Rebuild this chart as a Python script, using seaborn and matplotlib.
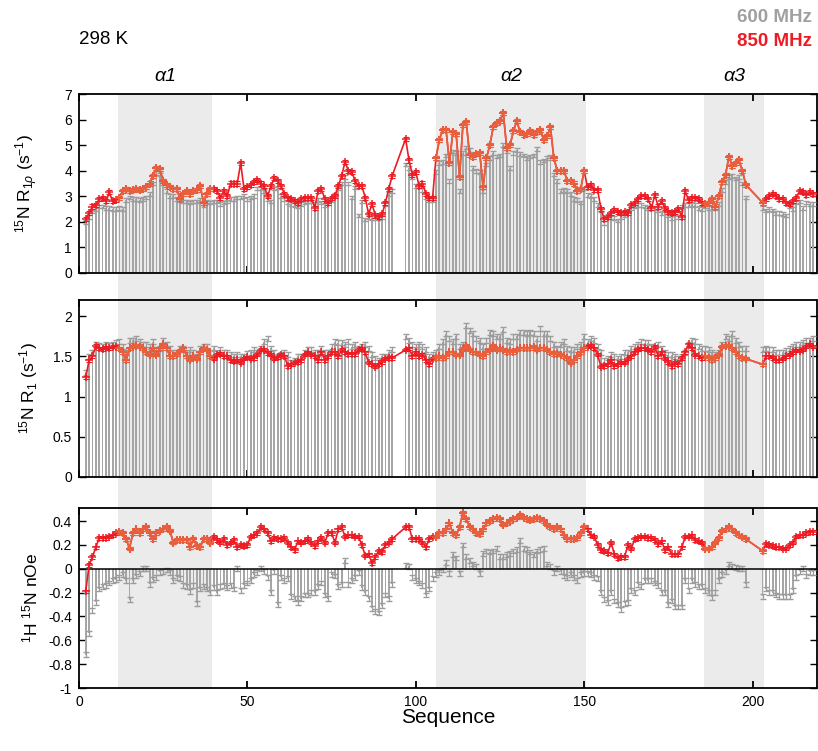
"""Relaxation data (R1rho, R1, hetNOE) at 600 and 850 MHz, 298 K"""
import numpy as np
import pandas as pd
import seaborn as sns
import matplotlib.pyplot as plt
from matplotlib.patches import Rectangle
from matplotlib.transforms import blended_transform_factory

# residues with data (gaps at 94-96 and 199-202)
residues = np.r_[2:94, 97:199, 203:219]

r1rho_600 = [
    2.0, 2.2, 2.4, 2.5, 2.6, 2.6, 2.55, 2.55, 2.5, 2.5,
    2.55, 2.5, 2.85, 2.95, 2.9, 2.9, 2.85, 2.9, 2.95, 3.1,
    3.5, 3.9, 3.85, 3.5, 3.2, 3.0, 3.0, 2.9, 2.85, 2.8,
    2.8, 2.75, 2.8, 2.8, 2.85, 2.65, 2.8, 2.75, 2.8, 2.8,
    2.7, 2.75, 2.8, 2.9, 2.9, 2.95, 2.95, 3.0, 2.9, 2.95,
    3.0, 3.3, 3.3, 3.2, 2.9, 2.8, 3.3, 3.35, 3.0, 2.9,
    2.75, 2.7, 2.65, 2.6, 2.7, 2.75, 2.8, 2.8, 2.7, 2.85,
    2.75, 2.65, 2.8, 2.85, 3.05, 3.3, 3.5, 3.75, 3.5, 2.95,
    3.35, 2.25, 2.8, 2.1, 2.2, 2.15, 2.15, 2.15, 2.2, 2.7,
    3.1, 3.2,
    4.25, 4.1, 3.75, 3.4, 3.4, 3.25, 2.95, 2.85, 2.85, 3.95,
    4.3, 4.35, 4.6, 3.6, 4.75, 4.7, 3.2, 4.7, 4.9, 4.8,
    4.1, 4.0, 3.95, 3.2, 4.25, 4.5, 4.7, 4.55, 4.6, 5.0,
    4.75, 4.1, 4.7, 4.8, 4.65, 4.6, 4.5, 4.55, 4.6, 4.85,
    4.35, 4.4, 4.5, 4.55, 3.85, 3.6, 3.2, 3.25, 3.2, 3.1,
    2.9, 2.85, 2.75, 3.3, 3.05, 3.0, 2.9, 2.65, 2.45, 1.95,
    2.25, 2.2, 2.15, 2.05, 2.2, 2.25, 2.45, 2.55, 2.6, 2.65,
    2.65, 2.6, 2.55, 2.55, 2.55, 2.45, 2.35, 2.45, 2.25, 2.15,
    2.3, 2.2, 2.6, 2.65, 2.65, 2.7, 2.65, 2.55, 2.5, 2.6,
    2.55, 2.55, 2.55, 2.7, 3.25, 3.55, 3.75, 3.8, 3.7, 3.75,
    3.5, 2.95,
    2.55, 2.45, 2.5, 2.45, 2.35, 2.35, 2.3, 2.25, 2.6, 2.5,
    2.75, 2.8, 2.55, 2.75, 2.7, 2.7,
]
r1rho_850 = [
    2.1, 2.35, 2.6, 2.65, 2.9, 2.95, 2.8, 3.15, 2.8, 2.85,
    2.95, 3.2, 3.3, 3.2, 3.25, 3.3, 3.25, 3.3, 3.35, 3.5,
    3.8, 4.1, 4.05, 3.6, 3.45, 3.35, 3.3, 3.3, 2.9, 3.1,
    3.2, 3.1, 3.2, 3.25, 3.4, 2.75, 3.1, 3.3, 3.3, 3.2,
    2.95, 3.2, 3.0, 3.5, 3.5, 3.5, 4.3, 3.3, 3.35, 3.45,
    3.55, 3.65, 3.5, 3.4, 3.0, 3.4, 3.7, 3.6, 3.4, 3.1,
    2.95, 2.9, 2.8, 2.75, 2.9, 2.95, 2.95, 2.95, 2.55, 3.2,
    3.27, 2.9, 2.72, 2.95, 3.0, 3.4, 3.8, 4.35, 4.0, 3.95,
    3.6, 3.4, 3.4, 2.95, 2.3, 2.7, 2.25, 2.2, 2.3, 2.75,
    3.3, 3.8,
    5.25, 4.4, 3.85, 3.95, 3.4, 3.5, 3.1, 2.95, 2.95, 4.5,
    5.2, 5.6, 5.6, 4.3, 5.5, 5.45, 3.75, 5.8, 5.9, 4.6,
    4.55, 4.65, 4.7, 3.35, 4.5, 5.0, 5.7, 5.85, 5.95, 6.25,
    4.9, 5.0, 5.55, 5.95, 5.5, 5.4, 5.45, 5.55, 5.4, 5.5,
    5.6, 5.2, 5.35, 5.7, 4.5, 4.0, 4.0, 4.0, 3.6, 3.6,
    3.5, 3.2, 3.3, 4.0, 3.35, 3.45, 3.25, 3.25, 2.5, 2.1,
    2.2, 2.35, 2.45, 2.4, 2.35, 2.4, 2.35, 2.65, 2.75, 2.9,
    3.0, 3.0, 2.9, 2.55, 3.05, 2.6, 2.8, 2.55, 2.4, 2.35,
    2.4, 2.5, 2.2, 3.2, 2.85, 2.95, 2.95, 2.9, 2.75, 2.7,
    2.75, 2.9, 2.6, 3.0, 3.55, 3.85, 4.55, 4.2, 4.3, 4.4,
    4.0, 3.45,
    2.75, 2.9, 3.0, 3.1, 3.0, 2.9, 2.9, 2.75, 2.7, 2.8,
    2.95, 3.2, 3.15, 3.05, 3.15, 3.1,
]
r1_600 = [
    1.3, 1.5, 1.55, 1.65, 1.63, 1.62, 1.65, 1.63, 1.65, 1.67,
    1.68, 1.62, 1.55, 1.7, 1.7, 1.72, 1.68, 1.65, 1.65, 1.62,
    1.68, 1.58, 1.6, 1.7, 1.65, 1.6, 1.55, 1.55, 1.6, 1.6,
    1.55, 1.58, 1.55, 1.5, 1.6, 1.62, 1.62, 1.55, 1.6, 1.55,
    1.58, 1.55, 1.55, 1.52, 1.5, 1.52, 1.5, 1.5, 1.53, 1.55,
    1.58, 1.55, 1.6, 1.68, 1.72, 1.6, 1.55, 1.5, 1.52, 1.55,
    1.52, 1.42, 1.45, 1.5, 1.5, 1.55, 1.58, 1.58, 1.55, 1.55,
    1.6, 1.55, 1.55, 1.62, 1.68, 1.67, 1.67, 1.65, 1.68, 1.62,
    1.65, 1.6, 1.62, 1.65, 1.6, 1.52, 1.48, 1.45, 1.5, 1.5,
    1.55, 1.58,
    1.75, 1.7, 1.65, 1.62, 1.65, 1.62, 1.58, 1.5, 1.52, 1.55,
    1.62, 1.68, 1.78, 1.72, 1.68, 1.75, 1.62, 1.65, 1.88, 1.82,
    1.78, 1.72, 1.7, 1.62, 1.7, 1.8, 1.78, 1.75, 1.75, 1.83,
    1.7, 1.68, 1.75, 1.75, 1.8, 1.8, 1.78, 1.8, 1.78, 1.72,
    1.85, 1.78, 1.78, 1.72, 1.65, 1.6, 1.65, 1.68, 1.6, 1.58,
    1.58, 1.62, 1.65, 1.75, 1.68, 1.72, 1.7, 1.62, 1.55, 1.45,
    1.48, 1.52, 1.5, 1.48, 1.5, 1.55, 1.55, 1.6, 1.62, 1.65,
    1.68, 1.67, 1.67, 1.62, 1.6, 1.65, 1.6, 1.55, 1.52, 1.52,
    1.5, 1.48, 1.5, 1.55, 1.65, 1.7, 1.68, 1.62, 1.6, 1.6,
    1.58, 1.55, 1.52, 1.55, 1.65, 1.75, 1.72, 1.78, 1.7, 1.65,
    1.6, 1.6,
    1.58, 1.6, 1.58, 1.58, 1.55, 1.55, 1.55, 1.57, 1.6, 1.62,
    1.65, 1.65, 1.67, 1.7, 1.7, 1.72,
]
r1_850 = [
    1.24, 1.45, 1.5, 1.63, 1.6, 1.59, 1.61, 1.6, 1.62, 1.62,
    1.6, 1.55, 1.45, 1.6, 1.62, 1.63, 1.62, 1.6, 1.55, 1.52,
    1.6, 1.52, 1.6, 1.65, 1.6, 1.5, 1.5, 1.53, 1.57, 1.6,
    1.5, 1.46, 1.5, 1.47, 1.55, 1.6, 1.58, 1.5, 1.47, 1.52,
    1.53, 1.5, 1.5, 1.45, 1.44, 1.45, 1.42, 1.47, 1.49, 1.47,
    1.48, 1.52, 1.58, 1.58, 1.54, 1.52, 1.47, 1.49, 1.52, 1.5,
    1.38, 1.4, 1.42, 1.43, 1.45, 1.52, 1.55, 1.52, 1.5, 1.45,
    1.55, 1.45, 1.5, 1.55, 1.55, 1.5, 1.58, 1.55, 1.53, 1.53,
    1.53, 1.58, 1.6, 1.55, 1.42, 1.4, 1.37, 1.4, 1.43, 1.47,
    1.48, 1.48,
    1.58, 1.6, 1.5, 1.55, 1.5, 1.52, 1.45, 1.4, 1.47, 1.48,
    1.5, 1.48, 1.5, 1.55, 1.55, 1.52, 1.52, 1.58, 1.63, 1.58,
    1.55, 1.55, 1.52, 1.5, 1.55, 1.58, 1.63, 1.58, 1.6, 1.58,
    1.55, 1.57, 1.55, 1.58, 1.6, 1.6, 1.6, 1.6, 1.62, 1.58,
    1.6, 1.6, 1.58, 1.55, 1.53, 1.53, 1.52, 1.5, 1.48, 1.42,
    1.45, 1.5, 1.55, 1.6, 1.62, 1.63, 1.6, 1.52, 1.37, 1.38,
    1.4, 1.45, 1.38, 1.4, 1.42, 1.42, 1.47, 1.5, 1.55, 1.58,
    1.6, 1.6, 1.58, 1.55, 1.62, 1.5, 1.55, 1.47, 1.43, 1.38,
    1.42, 1.4, 1.48, 1.55, 1.65, 1.6, 1.52, 1.5, 1.48, 1.5,
    1.48, 1.45, 1.48, 1.52, 1.62, 1.63, 1.63, 1.6, 1.55, 1.5,
    1.48, 1.47,
    1.4, 1.5, 1.5, 1.48, 1.45, 1.45, 1.47, 1.5, 1.52, 1.55,
    1.57, 1.57, 1.58, 1.62, 1.65, 1.62,
]
noe_600 = [
    -0.72, -0.54, -0.35, -0.28, -0.17, -0.15, -0.14, -0.12, -0.1, -0.09,
    -0.07, -0.05, -0.1, -0.26, -0.1, -0.06, -0.04, 0.0, 0.0, -0.13,
    -0.09, -0.07, -0.03, -0.02, -0.01, -0.03, -0.1, -0.07, -0.08, -0.14,
    -0.15, -0.19, -0.14, -0.29, -0.17, -0.15, -0.17, -0.2, -0.16, -0.2,
    -0.15, -0.14, -0.16, -0.14, -0.17, 0.0, -0.18, -0.14, -0.12, -0.1,
    -0.05, -0.03, 0.0, -0.02, -0.07, -0.2, -0.02, -0.3, -0.07, -0.1,
    -0.08, -0.23, -0.25, -0.28, -0.25, -0.22, -0.22, -0.2, -0.2, -0.15,
    -0.12, -0.22, -0.25, -0.05, -0.06, -0.15, -0.13, 0.07, -0.13, -0.1,
    -0.07, -0.03, -0.16, -0.2, -0.25, -0.33, -0.36, -0.37, -0.31, -0.22,
    -0.25, -0.13,
    0.03, 0.02, -0.07, -0.1, -0.12, -0.14, -0.22, -0.17, -0.08, -0.05,
    -0.03, -0.01, 0.05, -0.04, 0.12, 0.09, -0.04, 0.2, 0.1, 0.07,
    0.04, 0.02, -0.04, 0.13, 0.15, 0.14, 0.15, 0.17, 0.1, 0.1,
    0.12, 0.13, 0.15, 0.16, 0.24, 0.17, 0.16, 0.14, 0.12, 0.15,
    0.16, 0.17, 0.04, 0.02, -0.03, 0.0, -0.02, -0.06, -0.07, -0.05,
    -0.07, -0.1, -0.05, -0.04, -0.04, -0.05, -0.07, -0.08, -0.2, -0.26,
    -0.28, -0.2, -0.27, -0.3, -0.34, -0.29, -0.28, -0.18, -0.2, -0.13,
    -0.15, -0.1, -0.1, -0.1, -0.12, -0.14, -0.2, -0.2, -0.3, -0.27,
    -0.32, -0.32, -0.32, -0.1, -0.18, -0.1, -0.13, -0.15, -0.15, -0.18,
    -0.2, -0.24, -0.2, -0.1, -0.05, -0.02, 0.04, 0.02, 0.01, 0.0,
    0.0, -0.13,
    -0.23, -0.17, -0.2, -0.2, -0.22, -0.23, -0.23, -0.23, -0.23, -0.18,
    -0.07, -0.02, 0.0, -0.06, -0.03, -0.03,
]
noe_850 = [
    -0.19, 0.03, 0.1, 0.18, 0.26, 0.26, 0.26, 0.27, 0.28, 0.3,
    0.31, 0.3, 0.25, 0.17, 0.3, 0.33, 0.3, 0.33, 0.35, 0.3,
    0.25, 0.3, 0.32, 0.33, 0.35, 0.32, 0.22, 0.24, 0.24, 0.24,
    0.24, 0.18, 0.25, 0.19, 0.18, 0.25, 0.25, 0.22, 0.27, 0.24,
    0.22, 0.25, 0.2, 0.22, 0.24, 0.18, 0.2, 0.19, 0.2, 0.27,
    0.28, 0.3, 0.35, 0.33, 0.3, 0.23, 0.26, 0.25, 0.25, 0.26,
    0.22, 0.18, 0.16, 0.23, 0.22, 0.23, 0.25, 0.22, 0.19, 0.23,
    0.26, 0.22, 0.3, 0.3, 0.22, 0.33, 0.35, 0.27, 0.28, 0.28,
    0.27, 0.27, 0.2, 0.11, 0.12, 0.05, 0.1, 0.15, 0.14, 0.2,
    0.22, 0.25,
    0.35, 0.35, 0.25, 0.25, 0.25, 0.22, 0.18, 0.25, 0.27, 0.27,
    0.3, 0.3, 0.33, 0.38, 0.3, 0.28, 0.35, 0.47, 0.42, 0.35,
    0.33, 0.3, 0.29, 0.33, 0.38, 0.4, 0.42, 0.43, 0.42, 0.37,
    0.38, 0.4, 0.42, 0.43, 0.45, 0.43, 0.42, 0.41, 0.42, 0.43,
    0.42, 0.4, 0.37, 0.35, 0.33, 0.35, 0.33, 0.28, 0.25, 0.25,
    0.25, 0.26, 0.3, 0.35, 0.33, 0.28, 0.27, 0.2, 0.16, 0.15,
    0.13, 0.22, 0.12, 0.09, 0.1, 0.1, 0.2, 0.17, 0.25, 0.26,
    0.27, 0.27, 0.26, 0.26, 0.24, 0.21, 0.23, 0.16, 0.18, 0.12,
    0.12, 0.12, 0.18, 0.27, 0.27, 0.28, 0.24, 0.23, 0.22, 0.17,
    0.17, 0.18, 0.22, 0.26, 0.32, 0.33, 0.35, 0.33, 0.3, 0.28,
    0.27, 0.25,
    0.15, 0.21, 0.2, 0.19, 0.18, 0.18, 0.17, 0.17, 0.2, 0.22,
    0.27, 0.28, 0.28, 0.3, 0.31, 0.31,
]

# typical uncertainties of each data set
r1rho_600_err, r1rho_850_err = 0.07, 0.08
r1_600_err, r1_850_err = 0.03, 0.02
noe_600_err, noe_850_err = 0.02, 0.015

helices = [(11.5, 39.5), (106.0, 150.5), (185.5, 203.5)]
helix_names = ['α1', 'α2', 'α3']

GRAY = '#A6A6A6'
GRAY_ERR = '#9C9C9C'
RED = '#ED1C24'
ORANGE = '#E8603C'
SHADE = '#EBEBEB'

sns.set_style('ticks')
plt.rcParams['font.family'] = ['Liberation Sans', 'DejaVu Sans']
plt.rcParams['mathtext.fontset'] = 'custom'
plt.rcParams['mathtext.rm'] = 'Liberation Sans'
plt.rcParams['mathtext.it'] = 'Liberation Sans:italic'
plt.rcParams['axes.unicode_minus'] = False
plt.rcParams['xtick.color'] = 'black'
plt.rcParams['ytick.color'] = 'black'
plt.rcParams['text.color'] = 'black'
plt.rcParams['axes.labelcolor'] = 'black'

fig = plt.figure(figsize=(8.18, 7.51), dpi=100)
left, width = 79 / 818, 737.5 / 818
ax1 = fig.add_axes([left, 1 - 273 / 751, width, 179 / 751])
ax2 = fig.add_axes([left, 1 - 477 / 751, width, 177 / 751])
ax3 = fig.add_axes([left, 1 - 688 / 751, width, 180 / 751])


def draw_panel(ax, gray, red, gray_err, red_err):
    df = pd.DataFrame({'residue': residues, 'mhz600': gray, 'mhz850': red})
    sns.barplot(data=df, x='residue', y='mhz600', native_scale=True, width=0.5,
                color=GRAY, saturation=1, linewidth=0, errorbar=None, ax=ax, zorder=2)
    ax.errorbar(df['residue'], df['mhz600'], yerr=gray_err, fmt='none',
                ecolor=GRAY_ERR, elinewidth=0.9, capsize=2.2, capthick=1.0, zorder=3)
    # 850 MHz line, drawn in orange within the helices
    ax.errorbar(df['residue'], df['mhz850'], yerr=red_err, fmt='none',
                ecolor=RED, elinewidth=0.8, capsize=2.0, capthick=0.8, zorder=4)
    sns.lineplot(data=df, x='residue', y='mhz850', color=RED, marker='+',
                 markersize=5.5, markeredgewidth=1.1, markeredgecolor=RED,
                 linewidth=1.2, errorbar=None, ax=ax, zorder=5)
    for h0, h1 in helices:
        sub = df[(df['residue'] >= h0) & (df['residue'] <= h1)]
        ax.errorbar(sub['residue'], sub['mhz850'], yerr=red_err, fmt='none',
                    ecolor=ORANGE, elinewidth=0.8, capsize=2.0, capthick=0.8, zorder=6)
        sns.lineplot(data=sub, x='residue', y='mhz850', color=ORANGE, marker='+',
                     markersize=5.5, markeredgewidth=1.1, markeredgecolor=ORANGE,
                     linewidth=1.2, errorbar=None, ax=ax, zorder=7)
    ax.set_xlim(0, 219)
    ax.set_xticks([0, 50, 100, 150, 200])
    ax.set_facecolor('none')
    for sp in ax.spines.values():
        sp.set_linewidth(1.3)
        sp.set_visible(True)
        sp.set_color('black')
    ax.tick_params(axis='x', direction='in', top=True, bottom=True,
                   length=5, width=1.3, labelsize=10, pad=5)
    ax.tick_params(axis='y', direction='in', left=True, right=True,
                   length=5, width=1.0, labelsize=10, pad=5)
    ax.set_xlabel('')


draw_panel(ax1, r1rho_600, r1rho_850, r1rho_600_err, r1rho_850_err)
draw_panel(ax2, r1_600, r1_850, r1_600_err, r1_850_err)
draw_panel(ax3, noe_600, noe_850, noe_600_err, noe_850_err)

ax3.axhline(0, color='black', linewidth=1.1, zorder=3)

ticks1 = [0, 1, 2, 3, 4, 5, 6, 7]
ticks2 = [0, 0.5, 1, 1.5, 2]
ticks3 = [-1, -0.8, -0.6, -0.4, -0.2, 0, 0.2, 0.4]
for ax, ticks, lim in [(ax1, ticks1, (0, 7)), (ax2, ticks2, (0, 2.2)), (ax3, ticks3, (-1, 0.51))]:
    ax.set_ylim(*lim)
    ax.set_yticks(ticks, [f'{t:g}' for t in ticks])

for ax in (ax1, ax2):
    ax.tick_params(axis='x', labelbottom=False)

ax1.set_ylabel(r'$^{15}$N R$_{1\rho}$ (s$^{-1}$)', fontsize=12.5)
ax2.set_ylabel(r'$^{15}$N R$_{1}$ (s$^{-1}$)', fontsize=12.5)
ax3.set_ylabel(r'$^{1}$H $^{15}$N nOe', fontsize=12.5)
for ax in (ax1, ax2, ax3):
    ax.yaxis.set_label_coords(-0.053, 0.5)
ax3.set_xlabel('Sequence', fontsize=15, labelpad=-1)

# helix shading across all three panels
trans = blended_transform_factory(ax3.transData, fig.transFigure)
y_bot = ax3.get_position().y0
y_top = ax1.get_position().y1
for (h0, h1), name in zip(helices, helix_names):
    fig.add_artist(Rectangle((h0, y_bot), h1 - h0, y_top - y_bot, transform=trans,
                             facecolor=SHADE, edgecolor='none', zorder=-1))
    ax1.text((h0 + h1) / 2, 1.10, name, transform=ax1.get_xaxis_transform(),
             ha='center', va='center', fontsize=14, style='italic')

fig.text(79 / 818, 1 - 40 / 751, '298 K', ha='left', va='center', fontsize=13.5)
fig.text(812 / 818, 1 - 17 / 751, '600 MHz', ha='right', va='center', fontsize=13.5,
         fontweight='bold', color='#A0A0A0')
fig.text(812 / 818, 1 - 41 / 751, '850 MHz', ha='right', va='center', fontsize=13.5,
         fontweight='bold', color=RED)

fig.savefig('out.png', dpi=100, facecolor='white')
